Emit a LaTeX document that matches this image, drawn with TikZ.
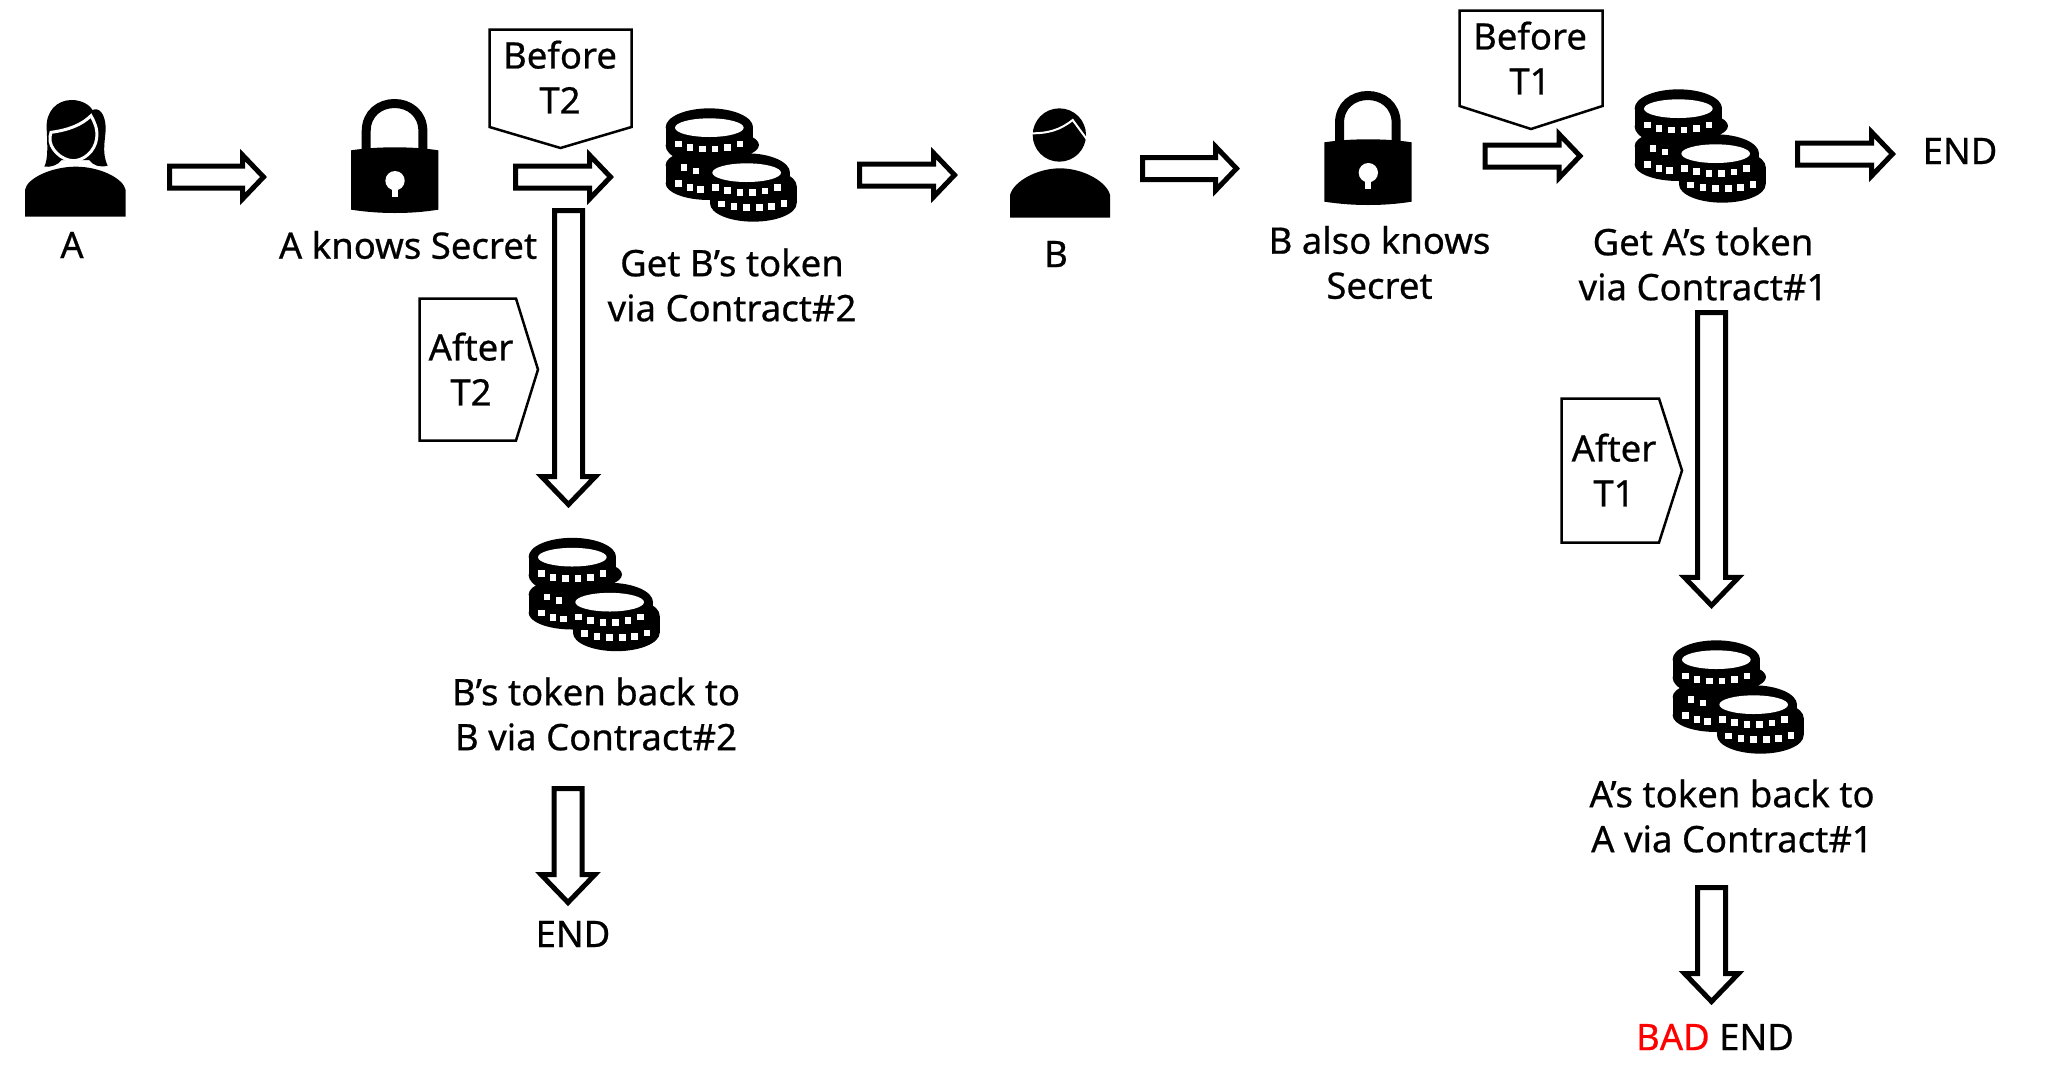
\documentclass[tikz,border=0pt]{standalone}
\usepackage{fontspec}
\setmainfont{Noto Sans}
\usetikzlibrary{calc}
\definecolor{badred}{RGB}{255,0,0}
\newcommand{\coinbody}[5]{
    \fill (#1,#2) ellipse [x radius=#3, y radius=#4];
    \fill (#1-#3,#2) rectangle (#1+#3,#2+#5);
    \fill (#1,#2+#5) ellipse [x radius=#3, y radius=#4];
}
\tikzset{
    labeltext/.style={font=\fontsize{36.5}{45}\selectfont\addfontfeature{FakeBold=0.6}, align=center, inner sep=0pt},
    calloutbox/.style={draw=black, line width=2.5pt, fill=white, line join=miter},
    hollowarrow/.style n args={3}{draw=black, line width=5pt, fill=white, line join=miter, to path={
        ($(\tikztostart)!#1pt!90:(\tikztotarget)$)
        -- ($(\tikztotarget)!#3pt!(\tikztostart)!#1pt!90:(\tikztotarget)$)
        -- ($(\tikztotarget)!#3pt!(\tikztostart)!#2pt!90:(\tikztotarget)$)
        -- (\tikztotarget)
        -- ($(\tikztotarget)!#3pt!(\tikztostart)!#2pt!-90:(\tikztotarget)$)
        -- ($(\tikztotarget)!#3pt!(\tikztostart)!#1pt!-90:(\tikztotarget)$)
        -- ($(\tikztostart)!#1pt!-90:(\tikztotarget)$)
        -- cycle}},
    arrowright/.style={hollowarrow={11}{22}{21}},
    arrowdown/.style={hollowarrow={14}{27}{28}},
    coinsicon/.pic={
        \begin{scope}[scale=1/3]
            \coinbody{148}{82}{131}{57}{55}
            \fill (166,135) ellipse [x radius=131, y radius=45];
            \coinbody{148}{195}{131}{50}{55}
            \coinbody{260}{218}{130}{58}{30}
            \coinbody{280}{258}{130}{55}{52}
            \fill[white] (148,83) ellipse [x radius=103, y radius=28];
            \fill[white] (260,218) ellipse [x radius=103, y radius=28];
            \foreach \dotx/\doty in {55/132,90/143,128/147,165/147,203/143,240/132,72/202,108/213,55/250,90/263,122/268,167/262,203/272,240/278,278/278,315/273,352/262,185/312,222/320,260/323,298/323,335/320,372/310}
                \fill[white] (\dotx-10,\doty-10) rectangle (\dotx+10,\doty+10);
        \end{scope}
    },
    lockicon/.pic={
        \begin{scope}[scale=1/3]
            \draw[line width=9pt] (58.5,185) -- (58.5,130) .. controls (58.5,75) and (100,46.5) .. (143.5,46.5) .. controls (187,46.5) and (228.5,75) .. (228.5,130) -- (228.5,185);
            \fill (13,187) .. controls (60,180) and (100,178) .. (144,178) .. controls (190,178) and (230,180) .. (275,187) -- (275,365) .. controls (230,372) and (190,375) .. (144,375) .. controls (100,375) and (60,372) .. (13,365) -- cycle;
            \fill[white] (145,278) circle (29);
            \fill[white] (135,285) rectangle (153,328);
        \end{scope}
    },
    womanicon/.pic={
        \begin{scope}[scale=1/3]
            % hair
            \fill (88,215) .. controls (100,190) and (97,150) .. (95,100) .. controls (92,50) and (125,15) .. (170,15) .. controls (200,15) and (225,30) .. (232,45) .. controls (255,35) and (270,60) .. (272,95) .. controls (273,130) and (258,170) .. (278,212) .. controls (255,218) and (235,212) .. (222,195) -- (140,195) .. controls (130,210) and (105,218) .. (88,215) -- cycle;
            \draw[draw=white, fill=black, line width=3pt] (108,112) .. controls (160,105) and (200,90) .. (228,62) .. controls (240,85) and (248,100) .. (245,130) .. controls (240,170) and (205,197) .. (175,197) .. controls (140,197) and (100,160) .. (105,125) -- cycle;
            % shoulders
            \fill (30,365) -- (30,285) .. controls (35,250) and (110,215) .. (182,215) .. controls (255,215) and (325,250) .. (332,285) -- (332,365) -- cycle;
        \end{scope}
    },
    manicon/.pic={
        \begin{scope}[scale=1/3]
            \fill (158,165) circle (80);
            \draw[white, line width=2pt] (74,160) .. controls (125,160) and (160,150) .. (198,120) -- (242,180);
            \fill (10,413) -- (10,345) .. controls (20,305) and (90,265) .. (160,265) .. controls (230,265) and (300,305) .. (310,345) -- (310,413) -- cycle;
        \end{scope}
    }
}
\begin{document}
\begin{tikzpicture}[x=1pt, y=-1pt]
    \useasboundingbox (0,0) rectangle (2061,1080);

    % Icons
    \pic (womanA) at (15,95) {womanicon};
    \pic (lockA) at (346.7,88) {lockicon};
    \pic (coinsGetB) at (660,100) {coinsicon};
    \pic (manB) at (1006.7,80) {manicon};
    \pic (lockB) at (1320,80) {lockicon};
    \pic (coinsGetA) at (1629,81) {coinsicon};
    \pic (coinsBackB) at (523,529.5) {coinsicon};
    \pic (coinsBackA) at (1667,632) {coinsicon};

    % Labels
    \node[labeltext] (labelA) at (72,245) {A};
    \node[labeltext] (labelLockA) at (408,245) {A knows Secret};
    \node[labeltext] (labelGetB) at (732,285) {Get B’s token\\via Contract\#2};
    \node[labeltext] (labelB) at (1056,254) {B};
    \node[labeltext] (labelLockB) at (1379.5,262.5) {B also knows\\Secret};
    \node[labeltext] (labelGetA) at (1703,264) {Get A’s token\\via Contract\#1};
    \node[labeltext] (endA) at (1960,151) {END};
    \node[labeltext] (labelBackB) at (596,714) {B’s token back to\\B via Contract\#2};
    \node[labeltext] (endB) at (573,934) {END};
    \node[labeltext] (labelBackA) at (1732,816) {A’s token back to\\A via Contract\#1};
    \node[labeltext] (endBad) at (1715,1037) {\textcolor{badred}{BAD} END};

    % Time conditions
    \draw[calloutbox] (489.5,29.5) -- (631.5,29.5) -- (631.5,127) -- (560.5,148) -- (489.5,127) -- cycle;
    \node[labeltext] (textBeforeT2) at (560,77) {Before\\T2};
    \draw[calloutbox] (1459.5,10.5) -- (1602.5,10.5) -- (1602.5,106) -- (1531,129) -- (1459.5,106) -- cycle;
    \node[labeltext] (textBeforeT1) at (1530,58) {Before\\T1};
    \draw[calloutbox] (419.5,298.5) -- (516,298.5) -- (538,369.5) -- (516,440.5) -- (419.5,440.5) -- cycle;
    \node[labeltext] (textAfterT2) at (471,369) {After\\T2};
    \draw[calloutbox] (1561.5,398.5) -- (1659,398.5) -- (1682,470.5) -- (1659,542.5) -- (1561.5,542.5) -- cycle;
    \node[labeltext] (textAfterT1) at (1614,470) {After\\T1};

    % Arrow ends
    \coordinate (stepAs) at (169.5,177);
    \coordinate (stepAe) at (263.5,177);
    \coordinate (stepBs) at (515.5,177);
    \coordinate (stepBe) at (610.5,177);
    \coordinate (stepCs) at (859.5,175);
    \coordinate (stepCe) at (954.5,175);
    \coordinate (stepDs) at (1142.5,168.5);
    \coordinate (stepDe) at (1236.5,168.5);
    \coordinate (stepEs) at (1485,156);
    \coordinate (stepEe) at (1580,156);
    \coordinate (stepFs) at (1797.5,154);
    \coordinate (stepFe) at (1892.5,154);
    \coordinate (afterT2s) at (568.5,210.5);
    \coordinate (afterT2e) at (568.5,504.5);
    \coordinate (endBs) at (568,788.5);
    \coordinate (endBe) at (568,902.5);
    \coordinate (afterT1s) at (1711.5,312.5);
    \coordinate (afterT1e) at (1711.5,605.4);
    \coordinate (endBads) at (1711.5,887.5);
    \coordinate (endBade) at (1711.5,1001.5);

    % Arrows
    \draw[arrowright] (stepAs) to (stepAe);
    \draw[arrowright] (stepBs) to (stepBe);
    \draw[arrowright] (stepCs) to (stepCe);
    \draw[arrowright] (stepDs) to (stepDe);
    \draw[arrowright] (stepEs) to (stepEe);
    \draw[arrowright] (stepFs) to (stepFe);
    \draw[arrowdown] (afterT2s) to (afterT2e);
    \draw[arrowdown] (endBs) to (endBe);
    \draw[arrowdown] (afterT1s) to (afterT1e);
    \draw[arrowdown] (endBads) to (endBade);
\end{tikzpicture}
\end{document}
